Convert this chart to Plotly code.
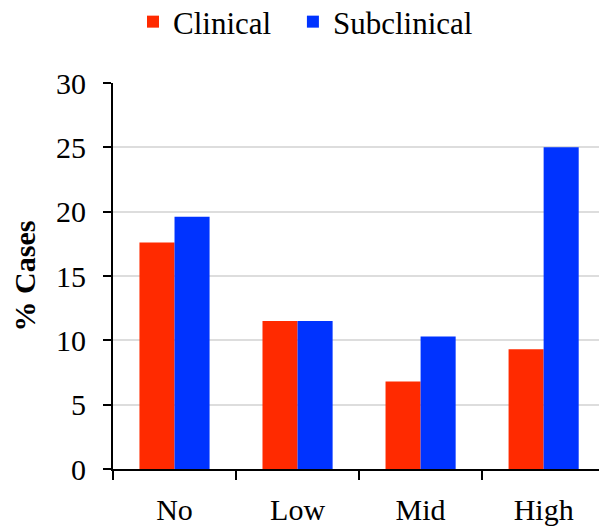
import plotly.graph_objects as go

# Exposure categories and percentage of cases in each group
categories = ["No", "Low", "Mid", "High"]
clinical = [17.6, 11.5, 6.8, 9.3]
subclinical = [19.6, 11.5, 10.3, 25.0]
y_ticks = [0, 5, 10, 15, 20, 25, 30]

RED = "#FF2A00"
BLUE = "#0033FF"
FONT = "Liberation Serif, Times New Roman, serif"

fig = go.Figure()
fig.add_trace(go.Bar(name="Clinical", x=categories, y=clinical,
                     marker=dict(color=RED, line=dict(width=0)),
                     showlegend=True, legend="legend"))
fig.add_trace(go.Bar(name="Subclinical", x=categories, y=subclinical,
                     marker=dict(color=BLUE, line=dict(width=0)),
                     showlegend=True, legend="legend2"))

legend_common = dict(orientation="h", xref="container", xanchor="left",
                     yref="container", y=1 - 22 / 532, yanchor="middle",
                     font=dict(size=31), itemwidth=30, visible=True)

fig.update_layout(
    width=599, height=532,
    margin=dict(l=113, r=0, t=83, b=63),
    paper_bgcolor="white", plot_bgcolor="white",
    showlegend=True,
    barmode="group", bargap=0.43, bargroupgap=0,
    font=dict(family=FONT, size=30, color="black"),
    legend=dict(x=0.222, **legend_common),
    legend2=dict(x=0.489, **legend_common),
    xaxis=dict(
        type="category", range=[-0.5, 3.45],
        showline=True, linecolor="black", linewidth=2,
        ticks="outside", tickson="boundaries", ticklen=9, tickwidth=2,
        tickcolor="black", ticklabelstandoff=13,
        showgrid=False, zeroline=False,
    ),
    yaxis=dict(
        range=[0, 30], tickvals=y_ticks,
        showline=True, linecolor="black", linewidth=2,
        ticks="outside", ticklen=8, tickwidth=2, tickcolor="black",
        ticklabelstandoff=11,
        showgrid=True, gridcolor="#DDDDDD", gridwidth=2,
        zeroline=False,
        title=dict(text="<b>% Cases</b>", font=dict(size=30), standoff=12),
    ),
)

fig.write_html("out.html")
